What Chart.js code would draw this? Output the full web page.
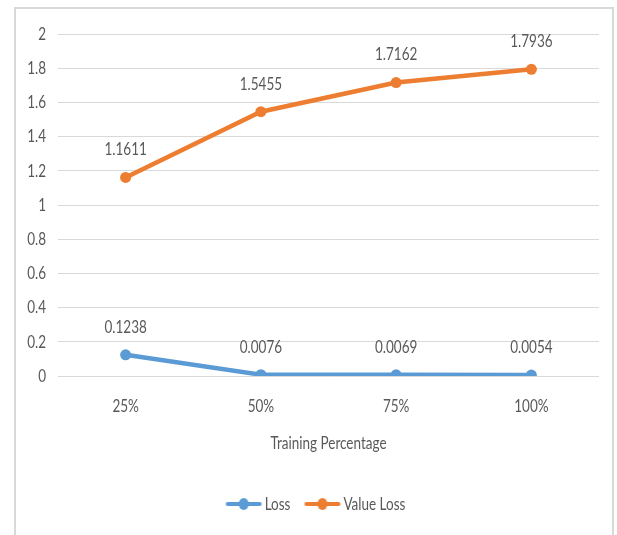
<!DOCTYPE html>
<html>
<head>
<meta charset="utf-8">
<script src="https://cdn.jsdelivr.net/npm/chart.js@4/dist/chart.umd.min.js"></script>
<style>
  html, body { margin: 0; padding: 0; background: #ffffff; }
  #wrap { width: 617px; height: 535px; position: relative; }
</style>
</head>
<body>
<div id="wrap"><canvas id="c" width="617" height="535"></canvas></div>
<script>
// Training share used for each run
const categories = ['25%', '50%', '75%', '100%'];
// Loss per run
const lossValues = [0.1238, 0.0076, 0.0069, 0.0054];
// Value loss per run
const valueLossValues = [1.1611, 1.5455, 1.7162, 1.7936];
// Y axis ticks
const yTicks = [0, 0.2, 0.4, 0.6, 0.8, 1, 1.2, 1.4, 1.6, 1.8, 2];

const BLUE = '#5B9BD5';
const ORANGE = '#ED7D31';
const TEXT = '#595959';
const GRID = '#D9D9D9';
const FONT = "Lato, 'Liberation Sans', sans-serif";
const FONT_SIZE = 18;
// Horizontal squeeze applied to all text, giving a narrow face
const SQUEEZE = 0.75;

const canvas = document.getElementById('c');
const ctx0 = canvas.getContext('2d');
const baseFill = ctx0.fillText.bind(ctx0);
const baseMeasure = ctx0.measureText.bind(ctx0);
ctx0.fillText = function (text, x, y, maxWidth) {
  this.save();
  this.translate(x, y);
  this.scale(SQUEEZE, 1);
  if (maxWidth === undefined) baseFill(text, 0, 0);
  else baseFill(text, 0, 0, maxWidth / SQUEEZE);
  this.restore();
};
ctx0.measureText = function (text) {
  const m = baseMeasure(text);
  return {
    width: m.width * SQUEEZE,
    actualBoundingBoxLeft: m.actualBoundingBoxLeft * SQUEEZE,
    actualBoundingBoxRight: m.actualBoundingBoxRight * SQUEEZE,
    actualBoundingBoxAscent: m.actualBoundingBoxAscent,
    actualBoundingBoxDescent: m.actualBoundingBoxDescent
  };
};

// Legend marker: a short line with a dot in its middle
function legendMarker(color) {
  const cv = document.createElement('canvas');
  cv.width = 38; cv.height = 14;
  const g = cv.getContext('2d');
  g.strokeStyle = color; g.lineWidth = 4; g.lineCap = 'round';
  g.beginPath(); g.moveTo(3, 7); g.lineTo(35, 7); g.stroke();
  g.fillStyle = color;
  g.beginPath(); g.ellipse(19, 7, 5, 6, 0, 0, Math.PI * 2); g.fill();
  return cv;
}

// Outer frame around the chart; legend centred under the plot area
const framePlugin = {
  id: 'frame',
  beforeDraw(chart) {
    if (chart.legend) chart.legend.left = chart.chartArea.left - 20;
    const ctx = chart.ctx;
    ctx.save();
    ctx.strokeStyle = GRID;
    ctx.lineWidth = 2;
    ctx.strokeRect(15, 8, 598, 540);
    ctx.restore();
  }
};

// Value labels above each point
const valueLabelPlugin = {
  id: 'valueLabels',
  afterDatasetsDraw(chart) {
    const ctx = chart.ctx;
    ctx.save();
    ctx.font = FONT_SIZE + 'px ' + FONT;
    ctx.fillStyle = TEXT;
    ctx.textAlign = 'center';
    ctx.textBaseline = 'middle';
    chart.data.datasets.forEach((ds, i) => {
      const meta = chart.getDatasetMeta(i);
      meta.data.forEach((pt, j) => {
        ctx.fillText(ds.data[j].toFixed(4), pt.x, pt.y - 28);
      });
    });
    ctx.restore();
  }
};

new Chart(canvas, {
  type: 'line',
  data: {
    labels: categories,
    datasets: [
      {
        label: 'Loss',
        data: lossValues,
        borderColor: BLUE,
        backgroundColor: BLUE,
        borderWidth: 4.5,
        pointRadius: 5.5,
        pointHoverRadius: 5.5,
        pointBorderWidth: 0,
        tension: 0
      },
      {
        label: 'Value Loss',
        data: valueLossValues,
        borderColor: ORANGE,
        backgroundColor: ORANGE,
        borderWidth: 4.5,
        pointRadius: 5.5,
        pointHoverRadius: 5.5,
        pointBorderWidth: 0,
        tension: 0
      }
    ]
  },
  options: {
    responsive: false,
    animation: false,
    events: [],
    layout: { padding: { left: 14, right: 18, top: 34, bottom: 12 } },
    scales: {
      x: {
        offset: true,
        afterFit(scale) { scale.height = 99; },
        grid: { display: false, drawTicks: false },
        border: { display: false },
        ticks: { color: TEXT, font: { family: FONT, size: FONT_SIZE }, padding: 19 },
        title: {
          display: true,
          text: 'Training Percentage',
          color: TEXT,
          font: { family: FONT, size: FONT_SIZE },
          padding: { top: 10, bottom: 21 }
        }
      },
      y: {
        min: 0,
        max: 2,
        afterBuildTicks(scale) { scale.ticks = yTicks.map(v => ({ value: v })); },
        afterFit(scale) { scale.width = 44; },
        grid: { color: GRID, lineWidth: 1, drawTicks: false },
        border: { display: false },
        ticks: {
          color: TEXT,
          font: { family: FONT, size: FONT_SIZE },
          padding: 12,
          callback: v => String(parseFloat(Number(v).toFixed(1)))
        }
      }
    },
    plugins: {
      tooltip: { enabled: false },
      legend: {
        position: 'bottom',
        labels: {
          color: TEXT,
          font: { family: FONT, size: FONT_SIZE },
          usePointStyle: true,
          pointStyleWidth: 24,
          padding: 20,
          generateLabels(chart) {
            return chart.data.datasets.map((ds, i) => ({
              text: ds.label,
              fontColor: TEXT,
              pointStyle: legendMarker(ds.borderColor),
              strokeStyle: ds.borderColor,
              fillStyle: ds.borderColor,
              lineWidth: 0,
              hidden: false,
              datasetIndex: i
            }));
          }
        }
      }
    }
  },
  plugins: [framePlugin, valueLabelPlugin]
});
</script>
</body>
</html>
